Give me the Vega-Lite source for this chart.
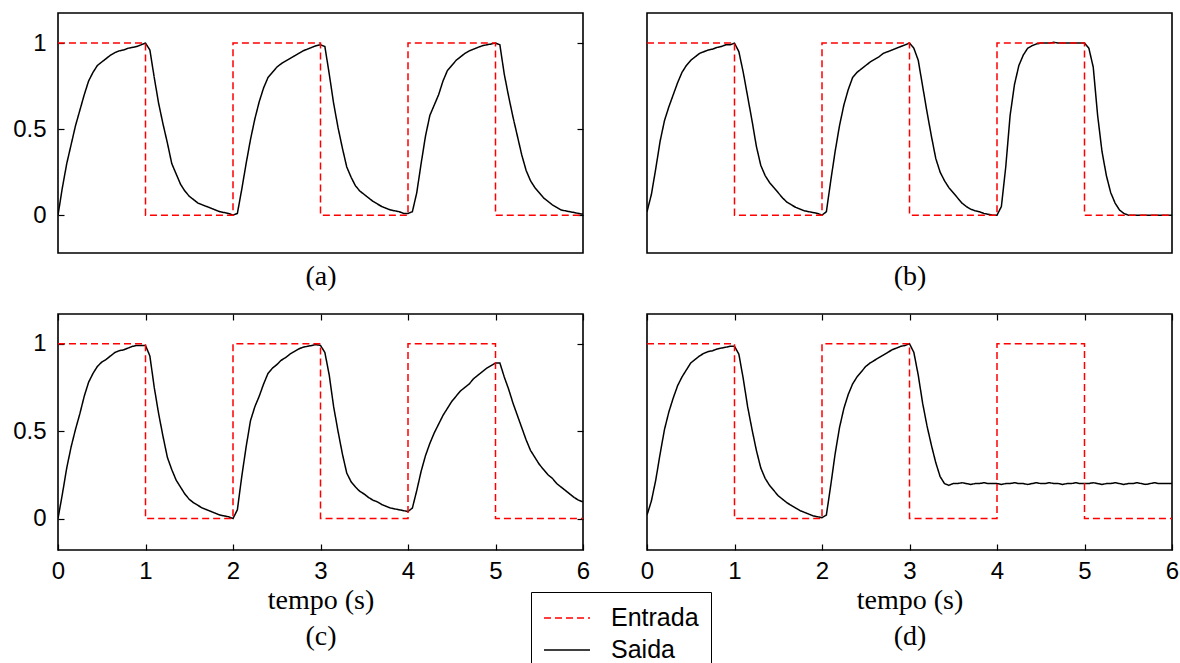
{
  "$schema": "https://vega.github.io/schema/vega-lite/v6.json",
  "background": "white",
  "padding": {"left": 11, "top": 12, "right": 0, "bottom": 0},
  "datasets": {
    "entrada": [
      {"i":0,"t":0,"v":1},{"i":1,"t":1,"v":1},{"i":2,"t":1,"v":0},{"i":3,"t":2,"v":0},
      {"i":4,"t":2,"v":1},{"i":5,"t":3,"v":1},{"i":6,"t":3,"v":0},{"i":7,"t":4,"v":0},
      {"i":8,"t":4,"v":1},{"i":9,"t":5,"v":1},{"i":10,"t":5,"v":0},{"i":11,"t":6,"v":0}
    ],
    "saida": [
      {"t":0.00,"a":0,"b":0.02,"c":0,"d":0.02},
      {"t":0.05,"a":0.16,"b":0.12,"c":0.14,"d":0.10},
      {"t":0.10,"a":0.30,"b":0.27,"c":0.29,"d":0.22},
      {"t":0.15,"a":0.41,"b":0.43,"c":0.41,"d":0.37},
      {"t":0.20,"a":0.52,"b":0.55,"c":0.51,"d":0.51},
      {"t":0.25,"a":0.61,"b":0.63,"c":0.60,"d":0.61},
      {"t":0.30,"a":0.70,"b":0.70,"c":0.70,"d":0.69},
      {"t":0.35,"a":0.78,"b":0.77,"c":0.78,"d":0.76},
      {"t":0.40,"a":0.83,"b":0.83,"c":0.83,"d":0.81},
      {"t":0.45,"a":0.87,"b":0.87,"c":0.87,"d":0.85},
      {"t":0.50,"a":0.89,"b":0.90,"c":0.895,"d":0.89},
      {"t":0.55,"a":0.91,"b":0.92,"c":0.91,"d":0.91},
      {"t":0.60,"a":0.93,"b":0.94,"c":0.93,"d":0.93},
      {"t":0.65,"a":0.945,"b":0.95,"c":0.95,"d":0.945},
      {"t":0.70,"a":0.955,"b":0.96,"c":0.96,"d":0.955},
      {"t":0.75,"a":0.96,"b":0.965,"c":0.965,"d":0.96},
      {"t":0.80,"a":0.97,"b":0.975,"c":0.975,"d":0.97},
      {"t":0.85,"a":0.975,"b":0.98,"c":0.985,"d":0.975},
      {"t":0.90,"a":0.98,"b":0.99,"c":0.99,"d":0.98},
      {"t":0.95,"a":0.99,"b":0.99,"c":0.99,"d":0.985},
      {"t":1.00,"a":1.0,"b":1.0,"c":0.99,"d":0.985},
      {"t":1.05,"a":0.96,"b":0.95,"c":0.93,"d":0.94},
      {"t":1.10,"a":0.80,"b":0.83,"c":0.75,"d":0.80},
      {"t":1.15,"a":0.65,"b":0.69,"c":0.60,"d":0.64},
      {"t":1.20,"a":0.53,"b":0.55,"c":0.47,"d":0.51},
      {"t":1.25,"a":0.42,"b":0.40,"c":0.35,"d":0.39},
      {"t":1.30,"a":0.30,"b":0.29,"c":0.28,"d":0.29},
      {"t":1.35,"a":0.24,"b":0.23,"c":0.22,"d":0.23},
      {"t":1.40,"a":0.18,"b":0.19,"c":0.18,"d":0.19},
      {"t":1.45,"a":0.14,"b":0.16,"c":0.14,"d":0.16},
      {"t":1.50,"a":0.11,"b":0.13,"c":0.11,"d":0.13},
      {"t":1.55,"a":0.09,"b":0.10,"c":0.09,"d":0.11},
      {"t":1.60,"a":0.07,"b":0.075,"c":0.075,"d":0.09},
      {"t":1.65,"a":0.06,"b":0.06,"c":0.06,"d":0.075},
      {"t":1.70,"a":0.05,"b":0.045,"c":0.05,"d":0.06},
      {"t":1.75,"a":0.04,"b":0.035,"c":0.04,"d":0.045},
      {"t":1.80,"a":0.03,"b":0.025,"c":0.03,"d":0.035},
      {"t":1.85,"a":0.02,"b":0.02,"c":0.02,"d":0.025},
      {"t":1.90,"a":0.015,"b":0.015,"c":0.015,"d":0.015},
      {"t":1.95,"a":0.01,"b":0.01,"c":0.01,"d":0.01},
      {"t":2.00,"a":0.0,"b":0.0,"c":0.0,"d":0.005},
      {"t":2.05,"a":0.01,"b":0.02,"c":0.05,"d":0.02},
      {"t":2.10,"a":0.15,"b":0.20,"c":0.24,"d":0.19},
      {"t":2.15,"a":0.30,"b":0.37,"c":0.41,"d":0.37},
      {"t":2.20,"a":0.44,"b":0.52,"c":0.56,"d":0.52},
      {"t":2.25,"a":0.56,"b":0.64,"c":0.64,"d":0.63},
      {"t":2.30,"a":0.66,"b":0.73,"c":0.70,"d":0.71},
      {"t":2.35,"a":0.74,"b":0.80,"c":0.77,"d":0.77},
      {"t":2.40,"a":0.80,"b":0.83,"c":0.83,"d":0.81},
      {"t":2.45,"a":0.83,"b":0.85,"c":0.86,"d":0.84},
      {"t":2.50,"a":0.86,"b":0.87,"c":0.88,"d":0.87},
      {"t":2.55,"a":0.88,"b":0.89,"c":0.905,"d":0.89},
      {"t":2.60,"a":0.895,"b":0.905,"c":0.92,"d":0.905},
      {"t":2.65,"a":0.91,"b":0.92,"c":0.94,"d":0.92},
      {"t":2.70,"a":0.925,"b":0.94,"c":0.955,"d":0.935},
      {"t":2.75,"a":0.94,"b":0.95,"c":0.97,"d":0.95},
      {"t":2.80,"a":0.955,"b":0.96,"c":0.98,"d":0.965},
      {"t":2.85,"a":0.965,"b":0.97,"c":0.985,"d":0.975},
      {"t":2.90,"a":0.975,"b":0.98,"c":0.99,"d":0.985},
      {"t":2.95,"a":0.985,"b":0.99,"c":0.995,"d":0.99},
      {"t":3.00,"a":0.99,"b":1.0,"c":0.99,"d":1.0},
      {"t":3.05,"a":0.98,"b":0.97,"c":0.95,"d":0.95},
      {"t":3.10,"a":0.82,"b":0.90,"c":0.82,"d":0.82},
      {"t":3.15,"a":0.65,"b":0.75,"c":0.64,"d":0.66},
      {"t":3.20,"a":0.51,"b":0.60,"c":0.50,"d":0.53},
      {"t":3.25,"a":0.39,"b":0.46,"c":0.37,"d":0.42},
      {"t":3.30,"a":0.28,"b":0.33,"c":0.26,"d":0.32},
      {"t":3.35,"a":0.22,"b":0.25,"c":0.21,"d":0.24},
      {"t":3.40,"a":0.17,"b":0.20,"c":0.18,"d":0.20},
      {"t":3.45,"a":0.14,"b":0.16,"c":0.155,"d":0.19},
      {"t":3.50,"a":0.12,"b":0.13,"c":0.14,"d":0.20},
      {"t":3.55,"a":0.10,"b":0.10,"c":0.12,"d":0.20},
      {"t":3.60,"a":0.08,"b":0.07,"c":0.105,"d":0.205},
      {"t":3.65,"a":0.065,"b":0.05,"c":0.095,"d":0.20},
      {"t":3.70,"a":0.05,"b":0.035,"c":0.08,"d":0.195},
      {"t":3.75,"a":0.04,"b":0.025,"c":0.07,"d":0.20},
      {"t":3.80,"a":0.03,"b":0.02,"c":0.06,"d":0.20},
      {"t":3.85,"a":0.025,"b":0.01,"c":0.055,"d":0.205},
      {"t":3.90,"a":0.02,"b":0.005,"c":0.05,"d":0.20},
      {"t":3.95,"a":0.01,"b":0.0,"c":0.045,"d":0.20},
      {"t":4.00,"a":0.01,"b":0.0,"c":0.04,"d":0.20},
      {"t":4.05,"a":0.02,"b":0.05,"c":0.06,"d":0.195},
      {"t":4.10,"a":0.13,"b":0.28,"c":0.16,"d":0.20},
      {"t":4.15,"a":0.30,"b":0.58,"c":0.27,"d":0.20},
      {"t":4.20,"a":0.46,"b":0.76,"c":0.36,"d":0.205},
      {"t":4.25,"a":0.58,"b":0.87,"c":0.43,"d":0.20},
      {"t":4.30,"a":0.64,"b":0.93,"c":0.49,"d":0.20},
      {"t":4.35,"a":0.70,"b":0.97,"c":0.54,"d":0.195},
      {"t":4.40,"a":0.78,"b":0.985,"c":0.59,"d":0.20},
      {"t":4.45,"a":0.84,"b":0.995,"c":0.63,"d":0.205},
      {"t":4.50,"a":0.87,"b":1.0,"c":0.67,"d":0.20},
      {"t":4.55,"a":0.90,"b":1.0,"c":0.70,"d":0.20},
      {"t":4.60,"a":0.92,"b":1.0,"c":0.73,"d":0.205},
      {"t":4.65,"a":0.94,"b":1.005,"c":0.75,"d":0.20},
      {"t":4.70,"a":0.955,"b":1.0,"c":0.77,"d":0.20},
      {"t":4.75,"a":0.965,"b":1.0,"c":0.80,"d":0.195},
      {"t":4.80,"a":0.975,"b":1.0,"c":0.82,"d":0.20},
      {"t":4.85,"a":0.985,"b":1.0,"c":0.84,"d":0.20},
      {"t":4.90,"a":0.99,"b":1.0,"c":0.86,"d":0.205},
      {"t":4.95,"a":0.995,"b":1.0,"c":0.875,"d":0.20},
      {"t":5.00,"a":1.0,"b":1.0,"c":0.89,"d":0.20},
      {"t":5.05,"a":0.99,"b":0.97,"c":0.89,"d":0.20},
      {"t":5.10,"a":0.82,"b":0.86,"c":0.81,"d":0.205},
      {"t":5.15,"a":0.69,"b":0.58,"c":0.74,"d":0.20},
      {"t":5.20,"a":0.57,"b":0.37,"c":0.66,"d":0.195},
      {"t":5.25,"a":0.46,"b":0.23,"c":0.59,"d":0.20},
      {"t":5.30,"a":0.35,"b":0.13,"c":0.52,"d":0.20},
      {"t":5.35,"a":0.26,"b":0.07,"c":0.45,"d":0.205},
      {"t":5.40,"a":0.20,"b":0.03,"c":0.39,"d":0.20},
      {"t":5.45,"a":0.16,"b":0.01,"c":0.35,"d":0.195},
      {"t":5.50,"a":0.13,"b":0.0,"c":0.31,"d":0.20},
      {"t":5.55,"a":0.10,"b":0.0,"c":0.28,"d":0.20},
      {"t":5.60,"a":0.08,"b":0.0,"c":0.25,"d":0.205},
      {"t":5.65,"a":0.06,"b":0.0,"c":0.23,"d":0.20},
      {"t":5.70,"a":0.045,"b":0.0,"c":0.20,"d":0.195},
      {"t":5.75,"a":0.03,"b":0.0,"c":0.18,"d":0.20},
      {"t":5.80,"a":0.025,"b":0.0,"c":0.16,"d":0.205},
      {"t":5.85,"a":0.02,"b":0.0,"c":0.14,"d":0.20},
      {"t":5.90,"a":0.015,"b":0.0,"c":0.12,"d":0.20},
      {"t":5.95,"a":0.01,"b":0.0,"c":0.105,"d":0.20},
      {"t":6.00,"a":0.005,"b":0.0,"c":0.095,"d":0.20}
    ]
  },
  "columns": 2,
  "align": "each",
  "spacing": {"row": 21, "column": 48},
  "concat": [
    {
      "width": 525, "height": 240,
      "layer": [
        {
          "data": {"name": "saida"},
          "mark": {"type": "line", "strokeWidth": 1.5, "clip": true},
          "encoding": {
            "x": {"field": "t", "type": "quantitative", "scale": {"domain": [0, 6], "nice": false, "zero": false},
                  "axis": {"orient": "bottom", "ticks": false, "labels": false, "title": "(a)", "titlePadding": 9}},
            "y": {"field": "a", "type": "quantitative", "scale": {"domain": [-0.22, 1.175], "nice": false, "zero": false},
                  "axis": {"orient": "left", "values": [0, 0.5, 1], "format": "~g", "tickSize": -6, "labelPadding": 18, "title": null}},
            "color": {"datum": "Saida", "type": "nominal", "scale": {"domain": ["Entrada", "Saida"], "range": ["#ff0000", "#000000"]},
                      "legend": {"title": null, "orient": "none", "legendX": 473, "legendY": 579}},
            "strokeDash": {"datum": "Saida", "type": "nominal", "scale": {"domain": ["Entrada", "Saida"], "range": [[7, 4], [1, 0]]},
                      "legend": {"title": null, "orient": "none", "legendX": 473, "legendY": 579}}
          }
        },
        {
          "data": {"name": "entrada"},
          "mark": {"type": "line", "strokeWidth": 1.5, "clip": true},
          "encoding": {
            "x": {"field": "t", "type": "quantitative", "scale": {"domain": [0, 6], "nice": false, "zero": false}, "axis": null},
            "y": {"field": "v", "type": "quantitative", "scale": {"domain": [-0.22, 1.175], "nice": false, "zero": false},
                  "axis": {"orient": "right", "values": [0, 0.5, 1], "tickSize": -6, "labels": false, "title": null}},
            "order": {"field": "i", "type": "quantitative"},
            "color": {"datum": "Entrada", "type": "nominal"},
            "strokeDash": {"datum": "Entrada", "type": "nominal"}
          }
        }
      ],
      "resolve": {"axis": {"x": "independent", "y": "independent"}}
    },
    {
      "width": 525, "height": 240,
      "layer": [
        {
          "data": {"name": "saida"},
          "mark": {"type": "line", "strokeWidth": 1.5, "clip": true},
          "encoding": {
            "x": {"field": "t", "type": "quantitative", "scale": {"domain": [0, 6], "nice": false, "zero": false},
                  "axis": {"orient": "bottom", "ticks": false, "labels": false, "title": "(b)", "titlePadding": 9}},
            "y": {"field": "b", "type": "quantitative", "scale": {"domain": [-0.22, 1.175], "nice": false, "zero": false}, "axis": null},
            "color": {"datum": "Saida", "type": "nominal", "scale": {"domain": ["Entrada", "Saida"], "range": ["#ff0000", "#000000"]},
                      "legend": {"title": null, "orient": "none", "legendX": 473, "legendY": 579}},
            "strokeDash": {"datum": "Saida", "type": "nominal", "scale": {"domain": ["Entrada", "Saida"], "range": [[7, 4], [1, 0]]},
                      "legend": {"title": null, "orient": "none", "legendX": 473, "legendY": 579}}
          }
        },
        {
          "data": {"name": "entrada"},
          "mark": {"type": "line", "strokeWidth": 1.5, "clip": true},
          "encoding": {
            "x": {"field": "t", "type": "quantitative", "scale": {"domain": [0, 6], "nice": false, "zero": false}, "axis": null},
            "y": {"field": "v", "type": "quantitative", "scale": {"domain": [-0.22, 1.175], "nice": false, "zero": false}, "axis": null},
            "order": {"field": "i", "type": "quantitative"},
            "color": {"datum": "Entrada", "type": "nominal"},
            "strokeDash": {"datum": "Entrada", "type": "nominal"}
          }
        }
      ],
      "resolve": {"axis": {"x": "independent", "y": "independent"}}
    },
    {
      "width": 525, "height": 236,
      "layer": [
        {
          "data": {"name": "saida"},
          "mark": {"type": "line", "strokeWidth": 1.5, "clip": true},
          "encoding": {
            "x": {"field": "t", "type": "quantitative", "scale": {"domain": [0, 6], "nice": false, "zero": false},
                  "axis": {"orient": "bottom", "values": [0, 1, 2, 3, 4, 5, 6], "format": "d", "tickSize": -6, "labelPadding": 15, "labelFlush": false,
                           "title": ["tempo (s)", "(c)"], "titlePadding": 3, "titleLineHeight": 36}},
            "y": {"field": "c", "type": "quantitative", "scale": {"domain": [-0.18, 1.17], "nice": false, "zero": false},
                  "axis": {"orient": "left", "values": [0, 0.5, 1], "format": "~g", "tickSize": -6, "labelPadding": 18, "title": null}},
            "color": {"datum": "Saida", "type": "nominal", "scale": {"domain": ["Entrada", "Saida"], "range": ["#ff0000", "#000000"]},
                      "legend": {"title": null, "orient": "none", "legendX": 473, "legendY": 579}},
            "strokeDash": {"datum": "Saida", "type": "nominal", "scale": {"domain": ["Entrada", "Saida"], "range": [[7, 4], [1, 0]]},
                      "legend": {"title": null, "orient": "none", "legendX": 473, "legendY": 579}}
          }
        },
        {
          "data": {"name": "entrada"},
          "mark": {"type": "line", "strokeWidth": 1.5, "clip": true},
          "encoding": {
            "x": {"field": "t", "type": "quantitative", "scale": {"domain": [0, 6], "nice": false, "zero": false},
                  "axis": {"orient": "top", "values": [0, 1, 2, 3, 4, 5, 6], "tickSize": -6, "labels": false, "title": null}},
            "y": {"field": "v", "type": "quantitative", "scale": {"domain": [-0.18, 1.17], "nice": false, "zero": false},
                  "axis": {"orient": "right", "values": [0, 0.5, 1], "tickSize": -6, "labels": false, "title": null}},
            "order": {"field": "i", "type": "quantitative"},
            "color": {"datum": "Entrada", "type": "nominal"},
            "strokeDash": {"datum": "Entrada", "type": "nominal"}
          }
        }
      ],
      "resolve": {"axis": {"x": "independent", "y": "independent"}}
    },
    {
      "width": 525, "height": 236,
      "layer": [
        {
          "data": {"name": "saida"},
          "mark": {"type": "line", "strokeWidth": 1.5, "clip": true},
          "encoding": {
            "x": {"field": "t", "type": "quantitative", "scale": {"domain": [0, 6], "nice": false, "zero": false},
                  "axis": {"orient": "bottom", "values": [0, 1, 2, 3, 4, 5, 6], "format": "d", "tickSize": -6, "labelPadding": 15, "labelFlush": false,
                           "title": ["tempo (s)", "(d)"], "titlePadding": 3, "titleLineHeight": 36}},
            "y": {"field": "d", "type": "quantitative", "scale": {"domain": [-0.18, 1.17], "nice": false, "zero": false}, "axis": null},
            "color": {"datum": "Saida", "type": "nominal", "scale": {"domain": ["Entrada", "Saida"], "range": ["#ff0000", "#000000"]},
                      "legend": {"title": null, "orient": "none", "legendX": 473, "legendY": 579}},
            "strokeDash": {"datum": "Saida", "type": "nominal", "scale": {"domain": ["Entrada", "Saida"], "range": [[7, 4], [1, 0]]},
                      "legend": {"title": null, "orient": "none", "legendX": 473, "legendY": 579}}
          }
        },
        {
          "data": {"name": "entrada"},
          "mark": {"type": "line", "strokeWidth": 1.5, "clip": true},
          "encoding": {
            "x": {"field": "t", "type": "quantitative", "scale": {"domain": [0, 6], "nice": false, "zero": false},
                  "axis": {"orient": "top", "values": [0, 1, 2, 3, 4, 5, 6], "tickSize": -6, "labels": false, "title": null}},
            "y": {"field": "v", "type": "quantitative", "scale": {"domain": [-0.18, 1.17], "nice": false, "zero": false}, "axis": null},
            "order": {"field": "i", "type": "quantitative"},
            "color": {"datum": "Entrada", "type": "nominal"},
            "strokeDash": {"datum": "Entrada", "type": "nominal"}
          }
        }
      ],
      "resolve": {"axis": {"x": "independent", "y": "independent"}}
    }
  ],
  "config": {
    "view": {"stroke": "#000000", "strokeWidth": 1.6},
    "axis": {"grid": false, "domain": false, "tickColor": "#000000", "tickWidth": 1.2,
             "labelColor": "#000000", "titleColor": "#000000",
             "labelFont": "Liberation Sans", "labelFontSize": 24,
             "titleFont": "Liberation Serif", "titleFontSize": 28, "titleFontWeight": "normal"},
    "legend": {"strokeColor": "#000000", "fillColor": "#ffffff", "padding": 12, "symbolOffset": 0,
               "labelFont": "Liberation Sans", "labelFontSize": 25, "labelColor": "#000000",
               "symbolSize": 2116, "symbolStrokeWidth": 1.6, "symbolType": "stroke",
               "clipHeight": 28, "rowPadding": 4, "labelOffset": 20}
  }
}
